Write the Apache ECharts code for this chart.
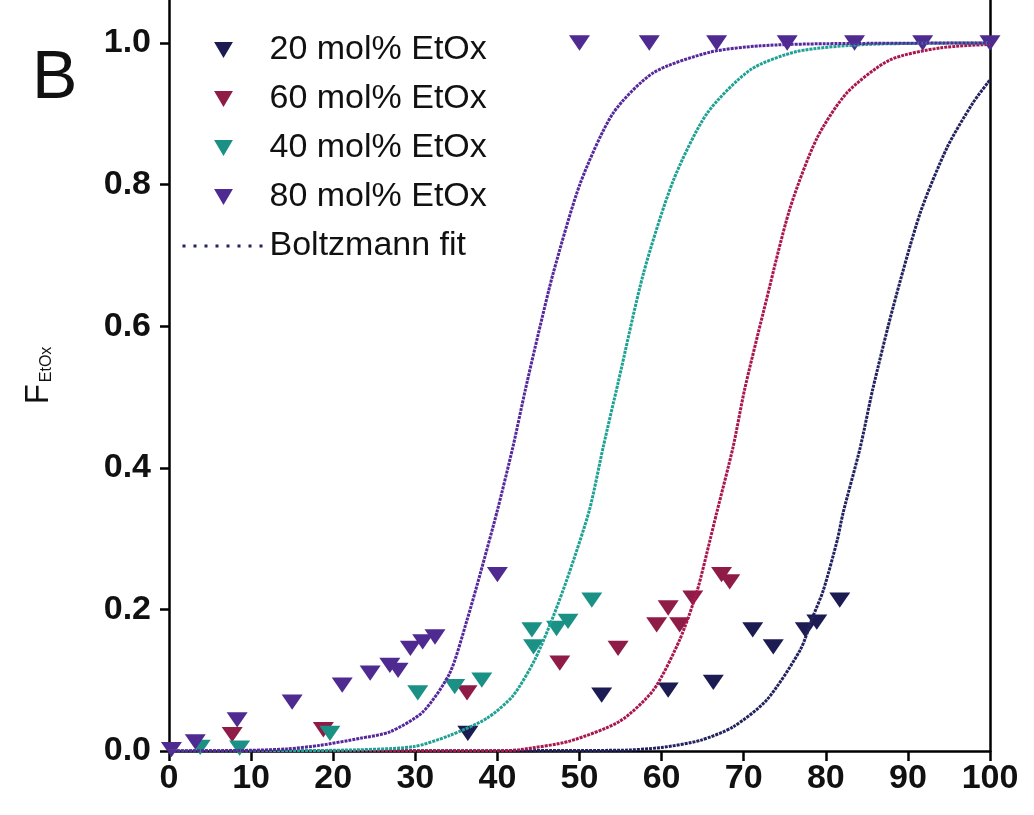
<!DOCTYPE html>
<html>
<head>
<meta charset="utf-8">
<script src="https://cdn.jsdelivr.net/npm/echarts@6/dist/echarts.min.js"></script>
<style>
html,body{margin:0;padding:0;background:#fff;}
#chart{width:1034px;height:815px;}
</style>
</head>
<body>
<div id="chart"></div>
<script>
// ---- data ----
const xTicks = [0, 10, 20, 30, 40, 50, 60, 70, 80, 90, 100];
const yTicks = [0, 0.2, 0.4, 0.6, 0.8, 1.0];

const names = ['20 mol% EtOx', '60 mol% EtOx', '40 mol% EtOx', '80 mol% EtOx'];
const fitName = 'Boltzmann fit';

// measured points [x, F_EtOx]
const pts20 = [[36.4,0.025],[52.7,0.079],[60.8,0.086],[66.3,0.097],[71.1,0.171],[73.6,0.147],[77.5,0.171],[78.9,0.182],[81.7,0.213]];
const pts60 = [[7.7,0.023],[18.8,0.030],[36.3,0.082],[47.6,0.124],[54.7,0.145],[59.4,0.178],[60.8,0.202],[62.2,0.178],[63.8,0.216],[67.3,0.249],[68.3,0.239]];
const pts40 = [[3.8,0.005],[8.6,0.004],[19.6,0.025],[30.3,0.082],[34.8,0.091],[38.1,0.100],[44.2,0.171],[44.4,0.147],[47.2,0.173],[48.6,0.183],[51.5,0.213]];
const pts80 = [[0.3,0.002],[3.2,0.013],[8.3,0.044],[15.0,0.069],[21.1,0.093],[24.5,0.110],[26.9,0.121],[27.9,0.114],[29.4,0.145],[30.9,0.154],[32.4,0.161],[40.0,0.249],[50.0,1.0],[58.5,1.0],[66.7,1.0],[75.3,1.0],[83.5,1.0],[91.8,1.0],[100,1.0]];

// Boltzmann fit curves [x, F_EtOx]
const fit20 = [[0,0],[55,0.001],[60,0.005],[64.7,0.015],[68.7,0.034],[72.8,0.072],[76.9,0.143],[78.4,0.189],[79.7,0.227],[81.4,0.298],[82.1,0.336],[84.2,0.429],[85.7,0.51],[88.2,0.627],[91.5,0.76],[94.8,0.853],[97.9,0.915],[100,0.948]];
const fit60 = [[0,0],[40,0.0],[42.8,0.002],[48.8,0.014],[54.9,0.042],[59.0,0.086],[62.2,0.157],[64.3,0.225],[65.9,0.298],[66.7,0.336],[68.7,0.429],[70.1,0.51],[72.4,0.62],[75.6,0.765],[78.9,0.865],[82.6,0.93],[87.8,0.976],[93.9,0.993],[100,0.998]];
const fit40 = [[0,0],[20,0.001],[29.7,0.006],[34.2,0.022],[38.7,0.046],[41.9,0.078],[44.6,0.13],[46.8,0.19],[48.7,0.25],[51.2,0.34],[52.9,0.43],[54.7,0.52],[57.8,0.675],[61.4,0.805],[65.5,0.90],[70.8,0.962],[76.5,0.988],[85,0.998],[100,1.0]];
const fit80 = [[0,0],[10,0.001],[14.4,0.003],[18.4,0.008],[23.3,0.018],[26.9,0.027],[30.9,0.055],[34.2,0.11],[36.3,0.185],[37.9,0.25],[40.0,0.34],[41.9,0.43],[43.4,0.51],[45.0,0.59],[46.8,0.675],[50.1,0.802],[54.1,0.901],[59.0,0.958],[65.9,0.987],[72,0.996],[80,0.999],[100,1.0]];

// ---- styling ----
const C = {
  s20: '#1c1b52', s60: '#8f1b47', s40: '#1b9186', s80: '#4e2a91',
  f20: '#22225f', f60: '#a8184f', f40: '#1fa193', f80: '#55299c'
};
const FONT = '"Liberation Sans", Arial, sans-serif';
const tri = 'path://M0,0 L10,0 L5,8.5 Z';

const chart = echarts.init(document.getElementById('chart'), null, {renderer: 'canvas'});

function scatter(name, data, color) {
  return {
    name, type: 'scatter', data, symbol: tri, symbolSize: [21, 18], symbolKeepAspect: true,
    itemStyle: {color, opacity: 1}, z: 3, clip: false
  };
}
function fit(data, color) {
  return {
    name: fitName, type: 'line', data, showSymbol: false, symbol: 'none',
    smooth: 0.25,
    lineStyle: {color, width: 3, type: [3, 1]}, itemStyle: {color}, z: 4, clip: true
  };
}

const yMax = 1.0607;

const option = {
  backgroundColor: '#fff',
  animation: false,
  grid: {left: 169, right: 44, top: 0, bottom: 64, containLabel: false},
  xAxis: {
    type: 'value', min: 0, max: 100, interval: 10,
    axisLine: {show: true, lineStyle: {color: '#000', width: 2.5}},
    axisTick: {show: true, length: 10, lineStyle: {color: '#000', width: 2.5}, customValues: xTicks},
    axisLabel: {customValues: xTicks, fontFamily: FONT, fontWeight: 'bold', fontSize: 34, color: '#111', margin: 11},
    splitLine: {show: false}
  },
  yAxis: [{
    type: 'value', min: 0, max: yMax,
    name: 'F{sub|EtOx}', nameLocation: 'middle', nameRotate: 90, nameGap: 114,
    nameTextStyle: {fontFamily: FONT, fontSize: 33, color: '#111',
      rich: {sub: {fontFamily: FONT, fontSize: 16, color: '#111', verticalAlign: 'bottom', padding: [16, 0, 0, 2]}}},
    axisLine: {show: true, lineStyle: {color: '#000', width: 2.5}},
    axisTick: {show: true, length: 9, lineStyle: {color: '#000', width: 2.5}, customValues: yTicks},
    axisLabel: {customValues: yTicks, fontFamily: FONT, fontWeight: 'bold', fontSize: 34, color: '#111', margin: 18,
      formatter: v => v.toFixed(1)},
    splitLine: {show: false}
  }, {
    type: 'value', min: 0, max: yMax, position: 'right',
    axisLine: {show: true, lineStyle: {color: '#000', width: 2.5}},
    axisTick: {show: false}, axisLabel: {show: false}, splitLine: {show: false}
  }],
  legend: {
    orient: 'vertical', left: 176, top: 28,
    itemWidth: 82, itemHeight: 16, itemGap: 15,
    textStyle: {fontFamily: FONT, fontSize: 34, color: '#111', lineHeight: 33},
    selectedMode: false,
    data: [
      {name: names[0], icon: tri},
      {name: names[1], icon: tri},
      {name: names[2], icon: tri},
      {name: names[3], icon: tri},
      {name: fitName, icon: 'inherit', itemStyle: {opacity: 0},
       lineStyle: {type: [3, 8], width: 3, color: C.f20, opacity: 1}}
    ]
  },
  graphic: [{
    type: 'text', left: 32, top: 45,
    style: {text: 'B', fontFamily: FONT, fontSize: 68, fill: '#111'}
  }],
  series: [
    fit(fit20, C.f20),
    fit(fit60, C.f60),
    fit(fit40, C.f40),
    fit(fit80, C.f80),
    scatter(names[0], pts20, C.s20),
    scatter(names[1], pts60, C.s60),
    scatter(names[2], pts40, C.s40),
    scatter(names[3], pts80, C.s80)
  ]
};
chart.setOption(option);
</script>
</body>
</html>
